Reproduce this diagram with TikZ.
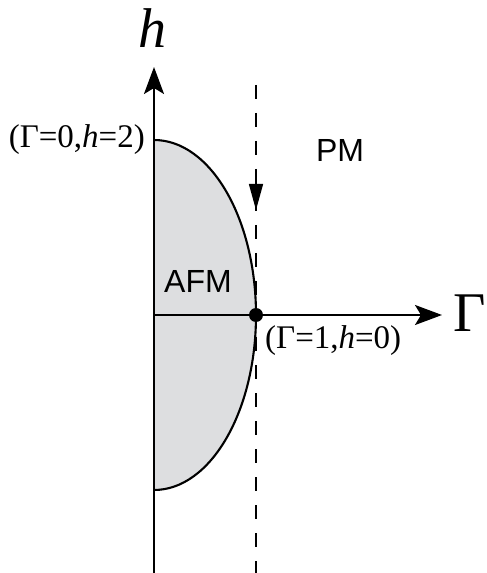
\documentclass[tikz,border=0pt]{standalone}
\usepackage{fontspec}
\setmainfont{Liberation Serif}
\newfontfamily\phasefont{Liberation Sans}
\usepackage{xcolor}
\usepackage{tikz}
\usetikzlibrary{arrows.meta,positioning}

\definecolor{afmgray}{HTML}{DDDEE0}

\begin{document}
\begin{tikzpicture}[
        x=1pt, y=1pt,
        axis/.style={line width=2.1pt, -{Stealth[length=27pt, width=20pt, inset=6pt]}},
        border/.style={line width=2.1pt},
        path/.style={line width=2.2pt, dash pattern=on 14pt off 14pt},
        pt/.style={font=\fontsize{33}{36}\selectfont, inner sep=0pt},
        phase/.style={font=\phasefont\fontsize{32}{36}\selectfont, inner sep=0pt},
        axlbl/.style={font=\fontsize{56}{60}\selectfont, inner sep=0pt},
    ]
    % frame of the picture
    \useasboundingbox (-154,-258) rectangle (333,315);

    % AFM region: half ellipse from (Gamma=0,h=2) to (Gamma=0,h=-2)
    \coordinate (O) at (0,0);
    \coordinate (crit) at (102,0);
    \fill[afmgray] (0,175) arc[start angle=90, end angle=-90, x radius=102, y radius=175] -- cycle;
    \draw[border] (0,175) arc[start angle=90, end angle=-90, x radius=102, y radius=175];

    % Axes
    \coordinate (hlow) at (0,-258);
    \coordinate (htip) at (0,248);
    \coordinate (gtip) at (288,0);
    \draw[axis] (hlow) -- (htip);
    \draw[axis] (O) -- (gtip);

    % Path at Gamma=1, coming down in h
    \coordinate (ptop) at (102,230);
    \coordinate (pbot) at (102,-258);
    \draw[path] (ptop) -- (pbot);
    \coordinate (arrA) at (102,132);
    \coordinate (arrB) at (102,105);
    \draw[line width=1.4pt, -{Triangle[length=26pt, width=14pt]}] (arrA) -- (arrB);

    % Critical point
    \fill (crit) circle[radius=7];

    % Labels
    \node[axlbl] (hlab) at (-2,287) {\textit{h}};
    \node[axlbl, anchor=west] (glab) at (299,2) {Γ};
    \node[pt, anchor=east] (top) at (-9,175) {(Γ=0,\textit{h}=2)};
    \node[pt, anchor=west] (critlab) at (111,-26) {(Γ=1,\textit{h}=0)};
    \node[phase] (pm) at (186,165) {PM};
    \node[phase] (afm) at (44,34) {AFM};
\end{tikzpicture}
\end{document}
